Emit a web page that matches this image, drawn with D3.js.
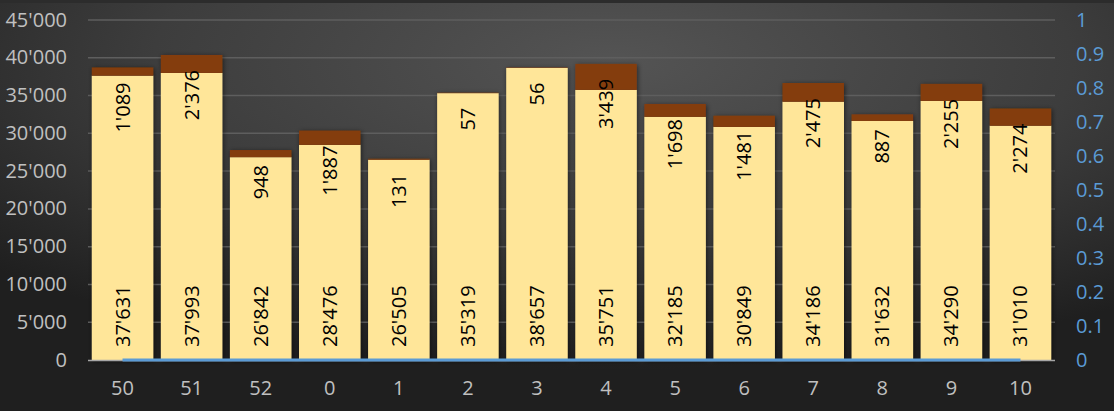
<!DOCTYPE html>
<html><head><meta charset="utf-8">
<script src="https://cdn.jsdelivr.net/npm/d3@7"></script>
<style>html,body{margin:0;padding:0;background:#2b2b2b;overflow:hidden}svg{display:block}</style>
</head><body>
<script>
const weeks = ["50","51","52","0","1","2","3","4","5","6","7","8","9","10"];
const baseValues = [37631,37993,26842,28476,26505,35319,38657,35751,32185,30849,34186,31632,34290,31010];
const extraValues = [1089,2376,948,1887,131,57,56,3439,1698,1481,2475,887,2255,2274];
const lineValues = [0,0,0,0,0,0,0,0,0,0,0,0,0,0];
const leftTicks = [0,5000,10000,15000,20000,25000,30000,35000,40000,45000];
const rightTicks = [0,0.1,0.2,0.3,0.4,0.5,0.6,0.7,0.8,0.9,1];

const W = 1114, H = 411;
const m = {left: 88, right: 1055, top: 20, bottom: 360};
const font = "'Open Sans', 'Liberation Sans', sans-serif";
const fs = "20px";
const fmt = v => d3.format(",")(v).replace(/,/g, "'");

const svg = d3.select("body").append("svg").attr("width", W).attr("height", H);
const defs = svg.append("defs");
const rg = defs.append("radialGradient").attr("id","bg")
  .attr("cx","55%").attr("cy","15%").attr("r","75%").attr("fx","55%").attr("fy","15%");
rg.append("stop").attr("offset","0%").attr("stop-color","#545454");
rg.append("stop").attr("offset","55%").attr("stop-color","#3d3d3d");
rg.append("stop").attr("offset","100%").attr("stop-color","#1f1f1f");
const f = defs.append("filter").attr("id","sh").attr("x","-20%").attr("y","-20%").attr("width","140%").attr("height","140%");
f.append("feDropShadow").attr("dx",1).attr("dy",1).attr("stdDeviation",2.5)
  .attr("flood-color","#000").attr("flood-opacity",0.55);

svg.append("rect").attr("width",W).attr("height",H).attr("fill","url(#bg)");
svg.append("rect").attr("width",W).attr("height",3).attr("fill","#2c2c2c");

const x = d3.scaleBand().domain(weeks).range([m.left, m.right]).paddingInner(0.11).paddingOuter(0.055);
const y = d3.scaleLinear().domain([0,45000]).range([m.bottom, m.top]);
const y2 = d3.scaleLinear().domain([0,1]).range([m.bottom, m.top]);
const xc = d => x(d) + x.bandwidth()/2;

// gridlines
svg.append("g").selectAll("line").data(leftTicks.filter(t=>t>0)).join("line")
  .attr("x1", m.left).attr("x2", m.right)
  .attr("y1", d=>y(d)).attr("y2", d=>y(d))
  .attr("stroke","#5e5e5e").attr("stroke-width",1.5);

// left axis
const la = svg.append("g").attr("transform",`translate(${m.left-21},0)`)
  .call(d3.axisLeft(y).tickValues(leftTicks).tickFormat(fmt).tickSize(0).tickPadding(0));
la.select(".domain").remove();
la.selectAll("text").attr("fill","#c0c0c0").attr("font-family",font).attr("font-size",fs).attr("dy","0.3em");

// right axis
const ra = svg.append("g").attr("transform",`translate(1076,0)`)
  .call(d3.axisRight(y2).tickValues(rightTicks).tickFormat(d3.format("")).tickSize(0).tickPadding(0));
ra.select(".domain").remove();
ra.selectAll("text").attr("fill","#5b9bd5").attr("font-family",font).attr("font-size",fs).attr("dy","0.3em");

// bottom axis
const ba = svg.append("g").attr("transform",`translate(0,${m.bottom})`)
  .call(d3.axisBottom(x).tickSize(0).tickPadding(21));
ba.select(".domain").remove();
ba.selectAll("text").attr("fill","#c0c0c0").attr("font-family",font).attr("font-size",fs);

// bars
const bars = svg.append("g").attr("filter","url(#sh)");
bars.selectAll("rect.base").data(weeks).join("rect").attr("class","base")
  .attr("x", d=>x(d)).attr("width", x.bandwidth())
  .attr("y", (d,i)=>y(baseValues[i])).attr("height",(d,i)=>y(0)-y(baseValues[i]))
  .attr("fill","#ffe699");
bars.selectAll("rect.extra").data(weeks).join("rect").attr("class","extra")
  .attr("x", d=>x(d)).attr("width", x.bandwidth())
  .attr("y", (d,i)=>y(baseValues[i]+extraValues[i])).attr("height",(d,i)=>y(baseValues[i])-y(baseValues[i]+extraValues[i]))
  .attr("fill","#843c0c");

// axis line
svg.append("line").attr("x1",m.left).attr("x2",m.right).attr("y1",m.bottom+0.5).attr("y2",m.bottom+0.5)
  .attr("stroke","#a6a6a6").attr("stroke-width",1.5);

// line series (secondary axis)
svg.append("path").datum(lineValues)
  .attr("d", d3.line().x((d,i)=>xc(weeks[i])).y(d=>y2(d)))
  .attr("fill","none").attr("stroke","#5b9bd5").attr("stroke-width",3);

// labels
const lab = svg.append("g").attr("font-family",font).attr("font-size",fs).attr("fill","#000");
lab.selectAll("text.b").data(weeks).join("text").attr("class","b")
  .attr("transform",(d,i)=>`translate(${xc(d)},${y(0)-13}) rotate(-90)`)
  .attr("text-anchor","start").attr("dy","0.35em")
  .text((d,i)=>fmt(baseValues[i]));
lab.selectAll("text.e").data(weeks).join("text").attr("class","e")
  .attr("transform",(d,i)=>`translate(${xc(d)},${y(baseValues[i]+extraValues[i])+15}) rotate(-90)`)
  .attr("text-anchor","end").attr("dy","0.35em")
  .text((d,i)=>fmt(extraValues[i]));
</script>
</body></html>
